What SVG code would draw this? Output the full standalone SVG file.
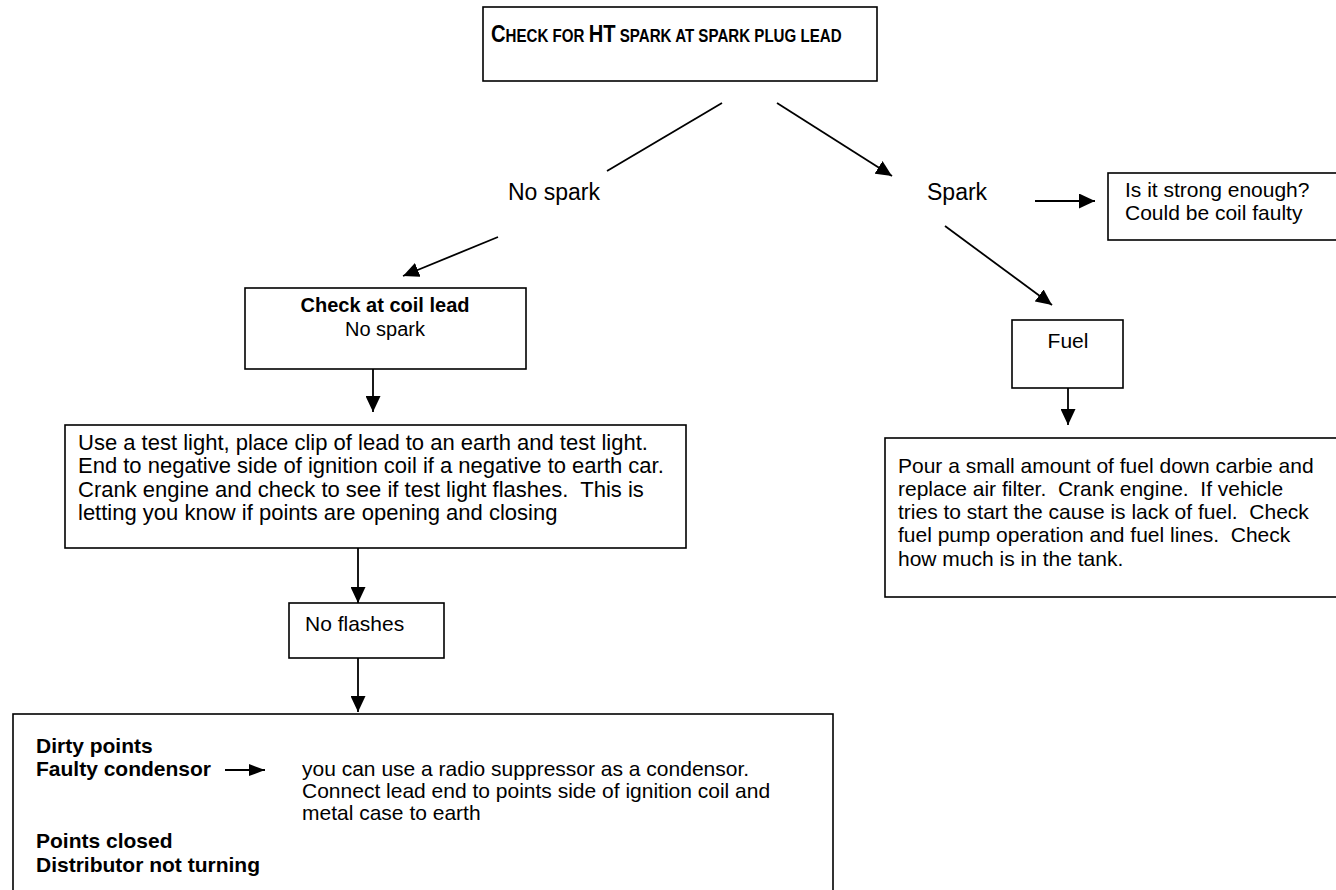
<svg xmlns="http://www.w3.org/2000/svg" width="1336" height="890" viewBox="0 0 1336 890">
<style>
text{font-family:"Liberation Sans",Arial,sans-serif;font-size:21px;fill:#000}
.b{font-weight:bold}
.s20{font-size:20px}
.s22{font-size:22px}
.box{fill:#fff;stroke:#000;stroke-width:1.6}
.ln{stroke:#000;stroke-width:1.8;fill:none}
.title{font-weight:bold;font-size:24px}
.sc{font-size:18px}
.lbl{font-size:23px}
</style>
<defs>
<marker id="ah" markerUnits="userSpaceOnUse" markerWidth="17" markerHeight="15" refX="16" refY="7.5" orient="auto">
<path d="M0,0 L16,7.5 L0,15 z" fill="#000"/>
</marker>
<marker id="ahs" markerUnits="userSpaceOnUse" markerWidth="17" markerHeight="12" refX="16" refY="6" orient="auto">
<path d="M0,0 L16,6 L0,12 z" fill="#000"/>
</marker>
</defs>
<rect width="1336" height="890" fill="#fff"/>
<g id="connectors">
<line class="ln" x1="722" y1="103" x2="607" y2="171"/>
<line class="ln" x1="777" y1="103" x2="892" y2="176" marker-end="url(#ah)"/>
<line class="ln" x1="498" y1="237" x2="403" y2="276" marker-end="url(#ah)"/>
<line class="ln" x1="1035" y1="201" x2="1095" y2="201" marker-end="url(#ah)"/>
<line class="ln" x1="945" y1="226" x2="1052" y2="305" marker-end="url(#ah)"/>
<line class="ln" x1="1068" y1="388" x2="1068" y2="425" marker-end="url(#ah)"/>
<line class="ln" x1="373" y1="369" x2="373" y2="412" marker-end="url(#ah)"/>
<line class="ln" x1="358" y1="548" x2="358" y2="603" marker-end="url(#ah)"/>
<line class="ln" x1="358" y1="658" x2="358" y2="712" marker-end="url(#ah)"/>
</g>
<g id="n-top">
<rect class="box" x="483" y="7" width="394" height="74"/>
<text class="title" transform="translate(491,42) scale(0.84,1)">C<tspan class="sc">HECK FOR </tspan>HT<tspan class="sc"> SPARK AT SPARK PLUG LEAD</tspan></text>
</g>
<g id="n-nospark"><text class="lbl" x="508" y="200">No spark</text></g>
<g id="n-spark"><text class="lbl" x="927" y="200">Spark</text></g>
<g id="n-strong">
<rect class="box" x="1108" y="173" width="250" height="67"/>
<text x="1125" y="197">Is it strong enough?</text>
<text x="1125" y="220">Could be coil faulty</text>
</g>
<g id="n-coil">
<rect class="box" x="245" y="288" width="281" height="81"/>
<text class="b s20" x="385" y="312" text-anchor="middle">Check at coil lead</text>
<text class="s20" x="385" y="336" text-anchor="middle">No spark</text>
</g>
<g id="n-fuel">
<rect class="box" x="1012" y="320" width="111" height="68"/>
<text x="1068" y="348" text-anchor="middle">Fuel</text>
</g>
<g id="n-pour">
<rect class="box" x="885" y="438" width="470" height="159"/>
<text x="898" y="473" xml:space="preserve">Pour a small amount of fuel down carbie and</text>
<text x="898" y="496" xml:space="preserve">replace air filter.  Crank engine.  If vehicle</text>
<text x="898" y="519" xml:space="preserve">tries to start the cause is lack of fuel.  Check</text>
<text x="898" y="542" xml:space="preserve">fuel pump operation and fuel lines.  Check</text>
<text x="898" y="566" xml:space="preserve">how much is in the tank.</text>
</g>
<g id="n-test">
<rect class="box" x="65" y="425" width="621" height="123"/>
<text class="s22" x="78" y="450" xml:space="preserve">Use a test light, place clip of lead to an earth and test light.</text>
<text class="s22" x="78" y="473" xml:space="preserve">End to negative side of ignition coil if a negative to earth car.</text>
<text class="s22" x="78" y="497" xml:space="preserve">Crank engine and check to see if test light flashes.  This is</text>
<text class="s22" x="78" y="520" xml:space="preserve">letting you know if points are opening and closing</text>
</g>
<g id="n-noflash">
<rect class="box" x="289" y="603" width="155" height="55"/>
<text x="305" y="631">No flashes</text>
</g>
<g id="n-faults">
<rect class="box" x="13" y="714" width="820" height="190"/>
<text class="b" x="36" y="753">Dirty points</text>
<text class="b" x="36" y="776">Faulty condensor</text>
<line class="ln" x1="225" y1="770" x2="265" y2="770" marker-end="url(#ahs)"/>
<text x="302" y="776">you can use a radio suppressor as a condensor.</text>
<text x="302" y="798">Connect lead end to points side of ignition coil and</text>
<text x="302" y="820">metal case to earth</text>
<text class="b" x="36" y="848">Points closed</text>
<text class="b" x="36" y="872">Distributor not turning</text>
</g>
</svg>
